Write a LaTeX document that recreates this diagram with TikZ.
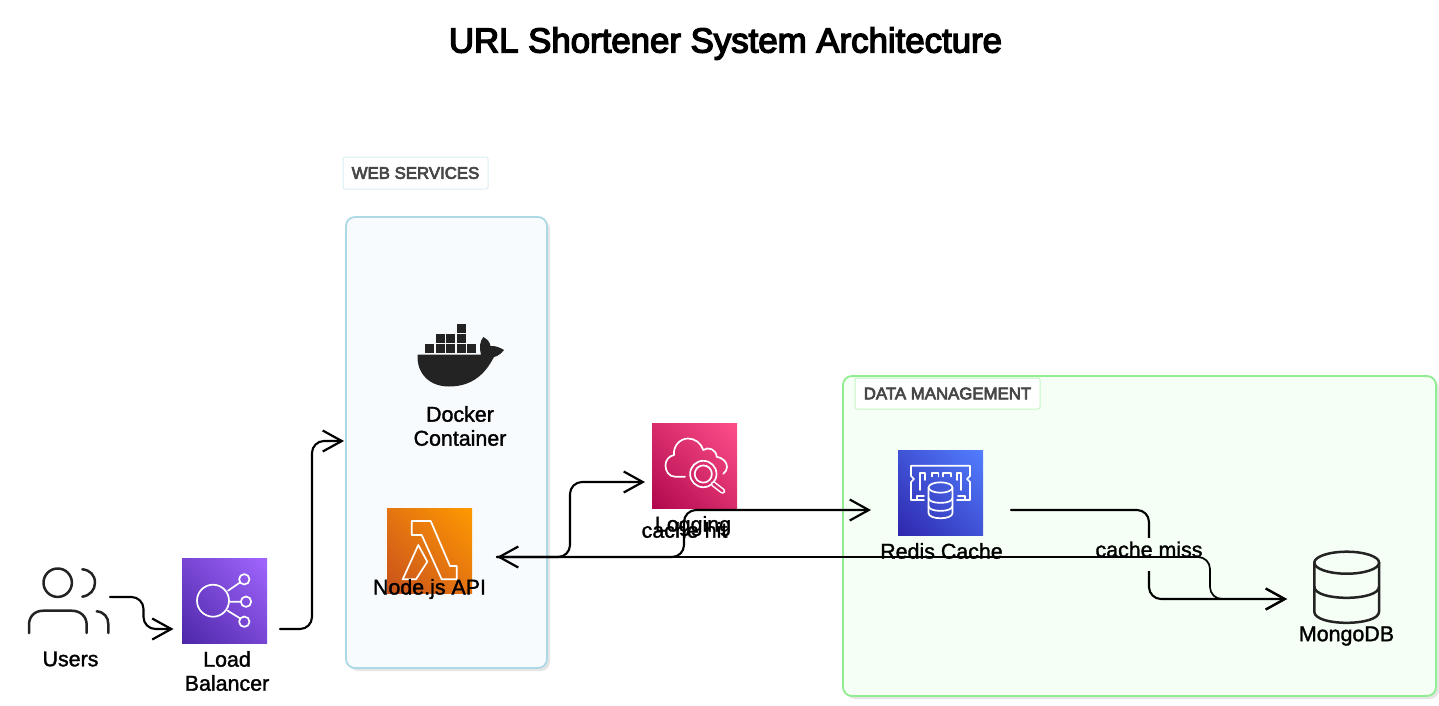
\documentclass[tikz,border=0pt]{standalone}
\usepackage{fontspec}
\setmainfont{Liberation Sans}
\newfontfamily\titlefont[FakeBold=4]{Liberation Sans}
\newfontfamily\labelfont[FakeBold=1.5]{Liberation Sans}
\newfontfamily\tagfont[FakeBold=4]{Liberation Sans}
\usetikzlibrary{arrows.meta,shadings,shadows}
\definecolor{ink}{HTML}{232323}
\definecolor{webfill}{HTML}{F7FBFE}
\definecolor{webline}{HTML}{ADD8E6}
\definecolor{datafill}{HTML}{F5FFF5}
\definecolor{dataline}{HTML}{90EE90}
\definecolor{lbA}{HTML}{4D27A8}\definecolor{lbB}{HTML}{A166FF}\definecolor{lbC}{HTML}{7746D3}
\definecolor{laA}{HTML}{C8511B}\definecolor{laB}{HTML}{FF9900}\definecolor{laC}{HTML}{E47511}
\definecolor{loA}{HTML}{B0084D}\definecolor{loB}{HTML}{FF4F8B}\definecolor{loC}{HTML}{D82C6C}
\definecolor{reA}{HTML}{2E27AD}\definecolor{reB}{HTML}{527FFF}\definecolor{reC}{HTML}{4053D6}
\tikzset{
  panel/.style={draw,line width=1.8pt,rounded corners=9pt,inner sep=0pt,outer sep=0pt,
    drop shadow={shadow xshift=3pt,shadow yshift=-3pt,fill=black!10,opacity=1}},
  tagbox/.style={fill=white,line width=1pt,rounded corners=2pt,inner sep=0pt,outer sep=0pt,
    text=black!72,font=\tagfont\fontsize{16.8}{20}\selectfont},
  iconbox/.style={minimum size=85pt,inner sep=0pt,outer sep=0pt,shading=bilinear interpolation},
  freebox/.style={inner sep=0pt,outer sep=0pt},
  lab/.style={inner sep=0pt,outer sep=0pt,align=center,text=black,
    font=\labelfont\fontsize{21.4}{24}\selectfont},
  conn/.style={draw=black,line width=2.1pt,rounded corners=12pt,line cap=round,line join=round,
    -{Straight Barb[length=19pt,width=21pt,line width=2.2pt]}},
  glyph/.style={draw=white,line width=1.7pt,line join=round,line cap=round},
  dark/.style={draw=ink,line width=2.5pt,line cap=round,line join=round},
}
\begin{document}
\begin{tikzpicture}[x=1pt,y=-1pt]
\useasboundingbox (0,0) rectangle (1439,705);
\node[lab,font=\titlefont\fontsize{34.8}{38}\selectfont] (title) at (725.5,43.5) {URL Shortener System Architecture};
% panels
\node[panel,fill=webfill,draw=webline,minimum width=201pt,minimum height=451pt] (web) at (446.5,442.5) {};
\node[panel,fill=datafill,draw=dataline,minimum width=593pt,minimum height=320pt] (data) at (1139.5,536) {};
\node[tagbox,draw=webline!45,minimum width=145pt,minimum height=32pt] (webtag) at (415.5,173) {WEB SERVICES};
\node[tagbox,draw=dataline!55,minimum width=185pt,minimum height=31pt] (datatag) at (947.5,393.5) {DATA MANAGEMENT};
% users
\node[freebox,minimum width=80pt,minimum height=64pt] (users) at (69,601) {};
\draw[dark] (57.7,582.7) circle[radius=14.2];
\draw[dark] (82.3,569.3) .. controls (90,570) and (95,575) .. (95,582.7) .. controls (95,590) and (90,595.5) .. (82.3,596.7);
\draw[dark] (29,633) -- (29,625) .. controls (29,616) and (35,610.7) .. (43.3,610.7) -- (71.7,610.7) .. controls (80,610.7) and (86.7,616) .. (86.7,625) -- (86.7,633);
\draw[dark] (96.7,611.3) .. controls (104,612) and (108.3,617) .. (108.3,624) -- (108.3,633);
% load balancer
\node[iconbox,lower left=lbA,upper right=lbB,upper left=lbC,lower right=lbC] (lb) at (224.5,600.5) {};
\draw[glyph] (213,600.7) circle[radius=16];
\draw[glyph] (244.3,579.3) circle[radius=5.2] (246,601.7) circle[radius=5.2] (244.3,621.7) circle[radius=5.2];
\draw[glyph] (228,590.7) -- (240,582.5) (229.5,601.7) -- (240.7,601.7) (227.7,610.7) -- (240,618.3);
% docker
\node[freebox,minimum width=87pt,minimum height=63pt] (docker) at (460.5,355.5) {};
\fill[ink] (417.7,354.5) -- (481,354.5) .. controls (479,347) and (480,341) .. (483.3,337) .. controls (487,339) and (490,342) .. (490.5,346) .. controls (495,345.5) and (500,347.5) .. (504,350) .. controls (501,354) and (497,356.5) .. (494,357) .. controls (488,368) and (477,386.5) .. (449,386.5) .. controls (425,386.5) and (416,368) .. (417.7,354.5) -- cycle;
\foreach \bx/\by in {425/344.3,435.7/344.3,446/344.3,456.7/344.3,467/344.3,435.7/334.3,446/334.3,456.7/334.3,456.7/324.3}
  \fill[ink] (\bx,\by) rectangle ++(9,8.8);
% lambda
\node[iconbox,lower left=laA,upper right=laB,upper left=laC,lower right=laC] (lambda) at (429.5,550.5) {};
\draw[glyph] (411.7,521) -- (430.7,521) -- (450,566) -- (456.7,566) -- (456.7,579.3) -- (441.7,579.3) -- (421.7,535) -- (411.7,535) -- cycle;
\draw[glyph] (418.3,545) -- (427.3,561.7) -- (416,579.3) -- (402.7,579.3) -- cycle;
% logging
\node[iconbox,lower left=loA,upper right=loB,upper left=loC,lower right=loC] (logging) at (694.5,465.5) {};
\draw[glyph] (685,476.7) -- (675,476.7) .. controls (669,476.7) and (665.5,471) .. (665.5,465.5) .. controls (665.5,460) and (669,456) .. (674,455) .. controls (673,446) and (680,438.5) .. (688,438.5) .. controls (695,438.5) and (701,443) .. (703.3,450) .. controls (708,446.5) and (716,449) .. (716.7,456.7) .. controls (723,458) and (727,462) .. (727,467) .. controls (727,469.5) and (725.5,472) .. (723.3,473.8);
\draw[glyph] (703.3,474) circle[radius=13.2] (703.3,474) circle[radius=8.6];
\draw[white,line width=5.5pt,line cap=round] (713.5,484) -- (722.5,491);
\draw[loC,line width=2.5pt,line cap=round] (713.5,484) -- (722.5,491);
% redis
\node[iconbox,lower left=reA,upper right=reB,upper left=reC,lower right=reC] (redis) at (940.5,492.5) {};
\draw[glyph] (924,500) -- (911,500) -- (911,482) -- (914,479) -- (911,476) -- (911,465.7) -- (970,465.7) -- (970,476) -- (967,479) -- (970,482) -- (970,500) -- (957,500);
\draw[glyph] (920,490) -- (920,472.7) -- (925,472.7) -- (925,480);
\draw[glyph] (961,490) -- (961,472.7) -- (956.7,472.7) -- (956.7,480);
\draw[glyph] (932,476.5) -- (932,472.7) -- (938.5,472.7) -- (938.5,476.5) (943,476.5) -- (943,472.7) -- (951,472.7) -- (951,476.5);
\draw[glyph] (916.7,500) -- (916.7,496) -- (924,496) (958,496) -- (965,496) -- (965,500);
\draw[glyph] (928.5,488) -- (928.5,513) .. controls (928.5,520) and (952.5,520) .. (952.5,513) -- (952.5,488);
\draw[glyph] (940.5,487.5) ellipse[x radius=12,y radius=5.2];
\draw[glyph] (928.5,498) .. controls (928.5,504.5) and (952.5,504.5) .. (952.5,498);
\draw[glyph] (928.5,506) .. controls (928.5,512.5) and (952.5,512.5) .. (952.5,506);
% mongo
\node[freebox,minimum width=65pt,minimum height=72pt] (mongo) at (1346.5,587) {};
\draw[dark] (1346.7,562.7) ellipse[x radius=32.4,y radius=11];
\draw[dark] (1314.3,562.7) -- (1314.3,611.7) .. controls (1314.3,626.5) and (1379,626.5) .. (1379,611.7) -- (1379,562.7);
\draw[dark] (1314.3,586.7) .. controls (1314.3,601.5) and (1379,601.5) .. (1379,586.7);
% labels
\node[lab] (userslab) at (70.5,659) {Users};
\node[lab] (lblab) at (227,671) {Load\\Balancer};
\node[lab] (dockerlab) at (460,426) {Docker\\Container};
\node[lab] (lambdalab) at (429.5,589) {Node.js API};
\node[lab] (redislab) at (941.5,551) {Redis Cache};
\node[lab] (mongolab) at (1346.5,636) {MongoDB};
% connectors
\draw[conn] ([shift={(1pt,4pt)}]users.east) -- ++(33.5,0) -- ++(0,32) -- ([shift={(-8.5pt,-28.5pt)}]lb.west);
\draw[conn] ([shift={(13pt,-28.5pt)}]lb.east) -- ++(32,0) -- ++(0,-188) -- ([shift={(-2pt,1.5pt)}]web.west);
\draw[conn] ([shift={(25pt,-6.5pt)}]lambda.east) -- ++(73,0) -- ++(0,-75) -- ([shift={(-7pt,-16.5pt)}]logging.west);
\draw[conn] ([shift={(25pt,-6.5pt)}]lambda.east) -- ++(187,0) -- ++(0,-47) -- ([shift={(-27pt,-17.5pt)}]redis.west);
\node[lab] (hitlab) at (684.5,530) {cache hit};
\node[lab] (logginglab) at (693,526) {Logging};
\draw[conn] ([shift={(28pt,-17.5pt)}]redis.east) -- ++(138,0) -- ++(0,89) -- ([shift={(-27pt,-12pt)}]mongo.west);
\node[lab,fill=datafill,text height=19pt,text depth=14pt] (misslab) at (1149,554.5) {cache miss};
\draw[conn,line width=1.7pt,{Straight Barb[length=19pt,width=21pt,line width=2.2pt]}-{Straight Barb[length=19pt,width=21pt,line width=2.2pt]}] ([shift={(25pt,-6.5pt)}]lambda.east) -- ++(713,0) -- ++(0,42) -- ([shift={(-27pt,-12pt)}]mongo.west);
\end{tikzpicture}
\end{document}
